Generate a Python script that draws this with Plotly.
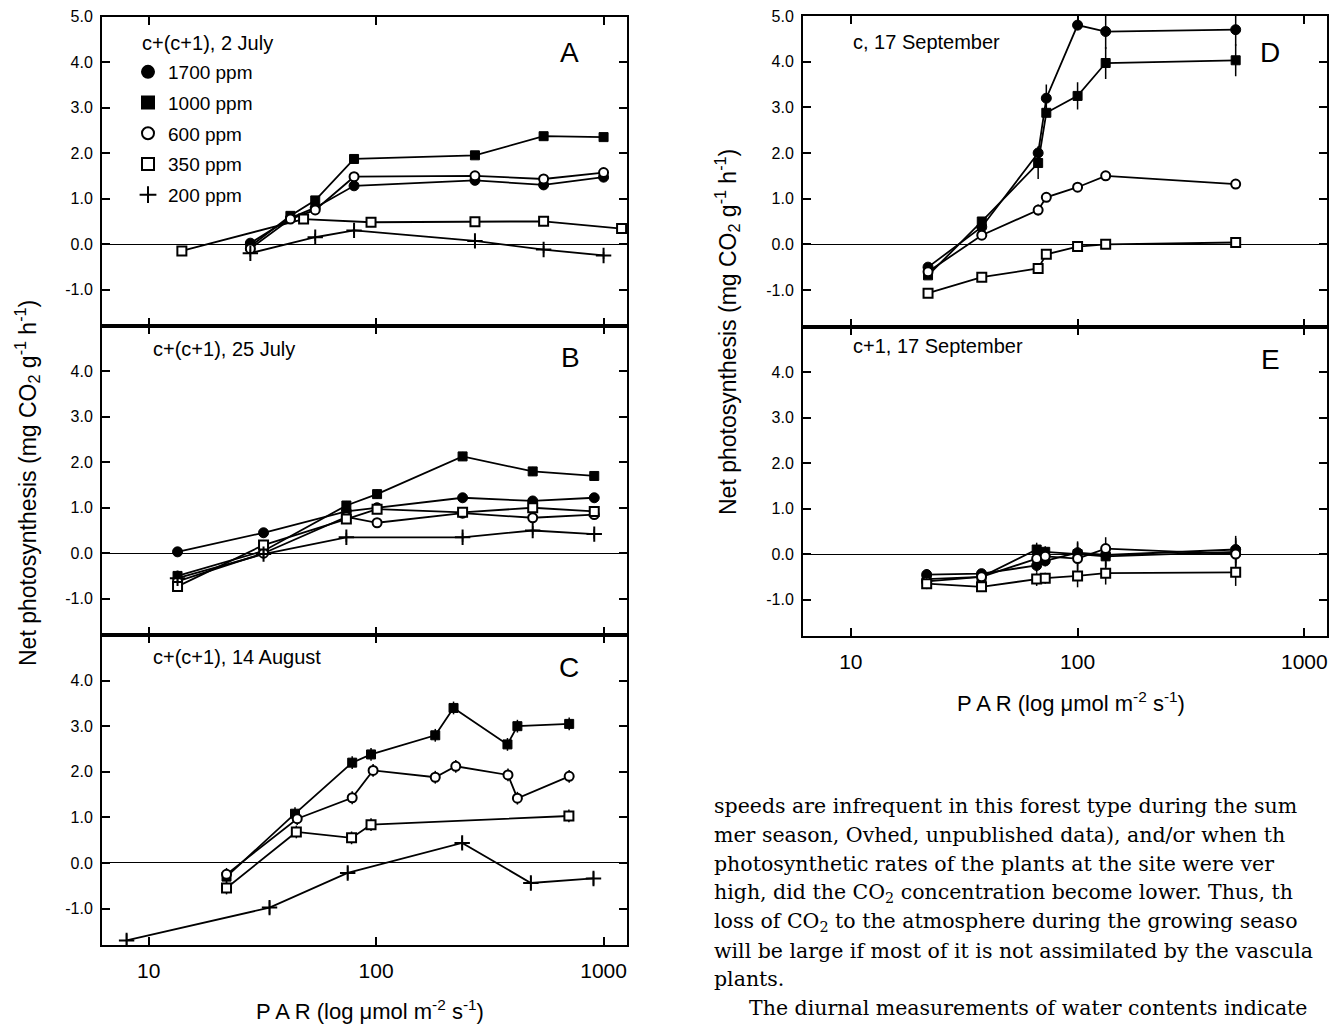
import plotly.graph_objects as go

W, H = 1340, 1025


def fx(p):
    return p / W


def fy(p):
    return 1 - p / H


# ---------------- data (PAR in umol m-2 s-1, net photosynthesis) ----------------
# Panel A: c+(c+1), 2 July
A_1700_x = [28, 42, 54, 80, 272, 545, 1000]
A_1700_y = [0.02, 0.57, 0.80, 1.28, 1.40, 1.30, 1.47]
A_1000_x = [28, 42, 54, 80, 272, 545, 1000]
A_1000_y = [-0.05, 0.62, 0.96, 1.87, 1.95, 2.37, 2.35]
A_600_x = [28, 42, 54, 80, 272, 545, 1000]
A_600_y = [-0.10, 0.55, 0.75, 1.48, 1.50, 1.43, 1.57]
A_350_x = [14, 48, 95, 272, 545, 1200]
A_350_y = [-0.15, 0.55, 0.48, 0.49, 0.50, 0.34]
A_200_x = [28, 54, 80, 272, 545, 1000]
A_200_y = [-0.20, 0.15, 0.30, 0.07, -0.12, -0.25]

# Panel B: c+(c+1), 25 July
B_x = [13.4, 32, 74, 101, 240, 488, 910]
B_1700_y = [0.03, 0.45, 0.92, 1.00, 1.22, 1.15, 1.22]
B_1000_y = [-0.50, 0.05, 1.05, 1.30, 2.13, 1.80, 1.70]
B_600_y = [-0.62, 0.00, 0.80, 0.67, 0.88, 0.78, 0.85]
B_350_y = [-0.73, 0.18, 0.75, 0.97, 0.90, 1.00, 0.92]
B_200_x = [13.4, 32, 74, 240, 488, 910]
B_200_y = [-0.55, -0.02, 0.35, 0.35, 0.50, 0.42]

# Panel C: c+(c+1), 14 August
C_1000_x = [22, 44, 78.5, 95, 182, 219, 378, 418, 706]
C_1000_y = [-0.30, 1.08, 2.20, 2.38, 2.80, 3.40, 2.60, 3.00, 3.05]
C_600_x = [22, 45, 78.5, 97, 182, 224, 380, 418, 706]
C_600_y = [-0.25, 0.97, 1.43, 2.03, 1.88, 2.12, 1.93, 1.42, 1.90]
C_350_x = [22, 44.6, 78, 95, 704]
C_350_y = [-0.55, 0.68, 0.55, 0.84, 1.03]
C_200_x = [8, 34, 75, 239, 479, 903]
C_200_y = [-1.70, -0.98, -0.22, 0.44, -0.44, -0.34]

# Panel D: c, 17 September
D_x = [21.9, 37.8, 67, 72.8, 100, 133, 498]
D_1700_y = [-0.50, 0.38, 2.00, 3.20, 4.80, 4.66, 4.70]
D_1000_y = [-0.68, 0.50, 1.78, 2.88, 3.25, 3.97, 4.03]
D_600_y = [-0.60, 0.20, 0.75, 1.03, 1.25, 1.50, 1.32]
D_350_y = [-1.07, -0.72, -0.53, -0.22, -0.05, 0.00, 0.04]
D_1700_err = [0.08, 0.08, 0.15, 0.30, 0.05, 0.38, 0.35]
D_1000_err = [0.08, 0.10, 0.35, 0.10, 0.30, 0.35, 0.35]
D_600_err = [0.05, 0.05, 0.12, 0.05, 0.10, 0.05, 0.10]
D_350_err = [0.10, 0.05, 0.10, 0.05, 0.10, 0.08, 0.10]

# Panel E: c+1, 17 September
E_x = [21.6, 37.7, 66, 72, 100, 133, 498]
E_1700_y = [-0.45, -0.43, -0.25, -0.15, 0.03, -0.02, 0.10]
E_1000_y = [-0.55, -0.50, 0.10, 0.05, 0.00, -0.05, 0.05]
E_600_y = [-0.60, -0.50, -0.10, -0.05, -0.10, 0.12, 0.00]
E_350_y = [-0.65, -0.72, -0.55, -0.53, -0.48, -0.42, -0.40]
E_err = [0.12, 0.10, 0.15, 0.12, 0.25, 0.25, 0.30]

ERR_A, ERR_B, ERR_C = 0.08, 0.10, 0.14

series_names = ["1700 ppm", "1000 ppm", "600 ppm", "350 ppm", "200 ppm"]
x_tick_vals = [10, 100, 1000]
x_tick_text = ["10", "100", "1000"]
y_ticks_full = [-1, 0, 1, 2, 3, 4, 5]
y_ticks_sub = [-1, 0, 1, 2, 3, 4]

STYLE = {
    "1700 ppm": dict(symbol="circle", color="black", size=10, line=dict(color="black", width=1)),
    "1000 ppm": dict(symbol="square", color="black", size=9, line=dict(color="black", width=1)),
    "600 ppm": dict(symbol="circle", color="white", size=9, line=dict(color="black", width=2)),
    "350 ppm": dict(symbol="square", color="white", size=9, line=dict(color="black", width=2)),
    "200 ppm": dict(symbol="cross-thin", color="black", size=11, line=dict(color="black", width=2)),
}

panels = [
    (1, [("1700 ppm", A_1700_x, A_1700_y, ERR_A), ("1000 ppm", A_1000_x, A_1000_y, ERR_A),
         ("600 ppm", A_600_x, A_600_y, ERR_A), ("350 ppm", A_350_x, A_350_y, ERR_A),
         ("200 ppm", A_200_x, A_200_y, ERR_A)]),
    (2, [("1700 ppm", B_x, B_1700_y, ERR_B), ("1000 ppm", B_x, B_1000_y, ERR_B),
         ("600 ppm", B_x, B_600_y, ERR_B), ("350 ppm", B_x, B_350_y, ERR_B),
         ("200 ppm", B_200_x, B_200_y, ERR_B)]),
    (3, [("1000 ppm", C_1000_x, C_1000_y, ERR_C), ("600 ppm", C_600_x, C_600_y, ERR_C),
         ("350 ppm", C_350_x, C_350_y, ERR_C), ("200 ppm", C_200_x, C_200_y, ERR_C)]),
    (4, [("1700 ppm", D_x, D_1700_y, D_1700_err), ("1000 ppm", D_x, D_1000_y, D_1000_err),
         ("600 ppm", D_x, D_600_y, D_600_err), ("350 ppm", D_x, D_350_y, D_350_err)]),
    (5, [("1700 ppm", E_x, E_1700_y, E_err), ("1000 ppm", E_x, E_1000_y, E_err),
         ("600 ppm", E_x, E_600_y, E_err), ("350 ppm", E_x, E_350_y, E_err)]),
]

fig = go.Figure()


def ax(n):
    return ("x" if n == 1 else f"x{n}"), ("y" if n == 1 else f"y{n}")


# lines first
for n, sers in panels:
    xa, ya = ax(n)
    for name, xs, ys, err in sers:
        fig.add_trace(go.Scatter(x=xs, y=ys, mode="lines", xaxis=xa, yaxis=ya,
                                 line=dict(color="black", width=1.8),
                                 showlegend=False, hoverinfo="skip"))

# then markers with error bars
for n, sers in panels:
    xa, ya = ax(n)
    for name, xs, ys, err in sers:
        if isinstance(err, list):
            ey = dict(type="data", array=err, color="black", thickness=1.5, width=0)
        else:
            ey = dict(type="constant", value=err, color="black", thickness=1.5, width=0)
        fig.add_trace(go.Scatter(x=xs, y=ys, mode="markers", xaxis=xa, yaxis=ya,
                                 name=name, legendgroup=name,
                                 marker=STYLE[name], error_y=ey,
                                 showlegend=(n == 1)))

LEFT = [fx(102), fx(627)]
RIGHT = [fx(803), fx(1327)]
XR_L = [0.795, 3.103]
XR_R = [0.789, 3.100]

geom = {
    1: (LEFT, [fy(326), fy(16.5)], XR_L, False, y_ticks_full),
    2: (LEFT, [fy(635), fy(326)], XR_L, False, y_ticks_sub),
    3: (LEFT, [fy(945), fy(635)], XR_L, True, y_ticks_sub),
    4: (RIGHT, [fy(326.5), fy(16)], XR_R, False, y_ticks_full),
    5: (RIGHT, [fy(636), fy(326.5)], XR_R, True, y_ticks_sub),
}

layout_axes = {}
for n, (dx, dy, xr, showx, yt) in geom.items():
    xk = "xaxis" if n == 1 else f"xaxis{n}"
    yk = "yaxis" if n == 1 else f"yaxis{n}"
    layout_axes[xk] = dict(
        type="log", range=xr, domain=dx, anchor=("y" if n == 1 else f"y{n}"),
        showline=True, linecolor="black", linewidth=2, mirror="allticks",
        ticks="inside", ticklen=8, tickwidth=1.5, tickcolor="black",
        tickvals=x_tick_vals, ticktext=x_tick_text, showticklabels=showx,
        tickfont=dict(size=21, color="black"), ticklabelstandoff=6,
        showgrid=False, zeroline=False, fixedrange=True,
    )
    layout_axes[yk] = dict(
        range=[-1.8, 5.0], domain=dy, anchor=("x" if n == 1 else f"x{n}"),
        showline=True, linecolor="black", linewidth=2, mirror="allticks",
        ticks="inside", ticklen=8, tickwidth=1.5, tickcolor="black",
        tickvals=yt, ticktext=[f"{v:.1f}" for v in yt],
        tickfont=dict(size=16, color="black"), ticklabelstandoff=4,
        showgrid=False, zeroline=True, zerolinecolor="black", zerolinewidth=1.2,
        fixedrange=True,
    )

ann = []


def add_text(text, x, y, size, xanchor="left", angle=0, family=None):
    d = dict(text=text, x=fx(x), y=fy(y), xref="paper", yref="paper",
             xanchor=xanchor, yanchor="middle", showarrow=False, textangle=angle,
             font=dict(size=size, color="black"))
    if family:
        d["font"]["family"] = family
    ann.append(d)


# subtitles
add_text("c+(c+1), 2 July", 140, 43, 20)
add_text("c+(c+1), 25 July", 151, 349, 20)
add_text("c+(c+1), 14 August", 151, 657, 20)
add_text("c, 17 September", 851, 42, 20)
add_text("c+1, 17 September", 851, 346, 20)
# panel letters
for letter, x, y in [("A", 569, 52), ("B", 570, 357), ("C", 569, 667), ("D", 1270, 52), ("E", 1270, 359)]:
    add_text(letter, x, y, 28, xanchor="center")
# axis titles
ytitle = "Net photosynthesis (mg CO<sub>2</sub> g<sup>-1</sup> h<sup>-1</sup>)"
xtitle = "P A R (log \u03bcmol m<sup>-2</sup> s<sup>-1</sup>)"
add_text(ytitle, 27, 483, 23, xanchor="center", angle=-90)
add_text(ytitle, 727, 332, 23, xanchor="center", angle=-90)
add_text(xtitle, 370, 1010, 22, xanchor="center")
add_text(xtitle, 1071, 702, 22, xanchor="center")

# body text of the page
para_lines = [
    ("speeds are infrequent in this forest type during the sum", 712, 806),
    ("mer season, Ovhed, unpublished data), and/or when th", 712, 835),
    ("photosynthetic rates of the plants at the site were ver", 712, 864),
    ("high, did the CO<sub>2</sub> concentration become lower. Thus, th", 712, 893),
    ("loss of CO<sub>2</sub> to the atmosphere during the growing seaso", 712, 922),
    ("will be large if most of it is not assimilated by the vascula", 712, 951),
    ("plants.", 712, 979),
    ("The diurnal measurements of water contents indicate", 747, 1008),
]
for t, x, y in para_lines:
    add_text(t, x, y, 20.5, family="DejaVu Serif")

fig.update_layout(
    width=W, height=H,
    margin=dict(l=0, r=0, t=0, b=0, pad=0, autoexpand=False),
    paper_bgcolor="white", plot_bgcolor="white",
    font=dict(family="Liberation Sans, Arial, sans-serif", color="black"),
    showlegend=True,
    legend=dict(x=fx(128), y=fy(53), xanchor="left", yanchor="top",
                font=dict(size=19, color="black"), bgcolor="rgba(0,0,0,0)",
                tracegroupgap=3, itemsizing="constant"),
    annotations=ann,
    **layout_axes,
)

fig.write_html("out.html")
